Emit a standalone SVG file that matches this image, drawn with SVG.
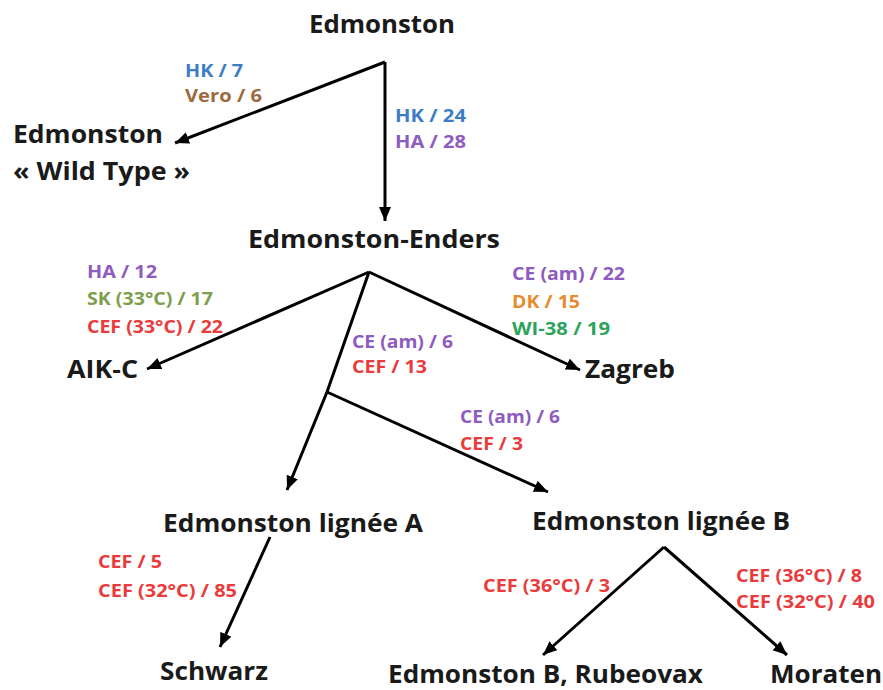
<svg xmlns="http://www.w3.org/2000/svg" width="883" height="690" viewBox="0 0 883 690">
<defs>
<style>
.n{font-family:"Open Sans","Noto Sans",sans-serif;font-weight:bold;font-size:25px;fill:#1a1a1a}
.l{font-family:"Open Sans","Noto Sans",sans-serif;font-weight:bold;font-size:17px}
.c{stroke:#000;stroke-width:3;fill:none;marker-end:url(#a)}
.blue{fill:#3d7dc6}.brown{fill:#9c6a3e}.purple{fill:#8e5bc0}.olive{fill:#7d9e4c}.red{fill:#e93b3b}.orange{fill:#e88a2f}.green{fill:#2ea35c}
</style>
<marker id="a" markerUnits="userSpaceOnUse" markerWidth="16" markerHeight="14" refX="14" refY="6" orient="auto">
<path d="M0,0 L14,6 L0,12 Z" fill="#000"/>
</marker>
</defs>
<rect width="883" height="690" fill="#fff"/>
<g id="connectors">
<path class="c" d="M385,62 L175,143"/>
<path class="c" d="M385,62 L385,221"/>
<path class="c" d="M369,272 L147,369"/>
<path class="c" d="M369,272 L580,370"/>
<path class="c" d="M369,272 L327,392 L287,490"/>
<path class="c" d="M327,392 L548,492"/>
<path class="c" d="M270,537 L220,647"/>
<path class="c" d="M664,547 L543,655"/>
<path class="c" d="M664,547 L787,655"/>
</g>
<g id="labels">
<text class="l blue" x="185" y="77" textLength="58" lengthAdjust="spacingAndGlyphs">HK / 7</text>
<text class="l brown" x="185" y="102" textLength="77" lengthAdjust="spacingAndGlyphs">Vero / 6</text>
<text class="l blue" x="395" y="122" textLength="71" lengthAdjust="spacingAndGlyphs">HK / 24</text>
<text class="l purple" x="395" y="148" textLength="71" lengthAdjust="spacingAndGlyphs">HA / 28</text>
<text class="l purple" x="87" y="278" textLength="70" lengthAdjust="spacingAndGlyphs">HA / 12</text>
<text class="l olive" x="87" y="305" textLength="126" lengthAdjust="spacingAndGlyphs">SK (33°C) / 17</text>
<text class="l red" x="87" y="333" textLength="136" lengthAdjust="spacingAndGlyphs">CEF (33°C) / 22</text>
<text class="l purple" x="352" y="348" textLength="101" lengthAdjust="spacingAndGlyphs">CE (am) / 6</text>
<text class="l red" x="352" y="373" textLength="75" lengthAdjust="spacingAndGlyphs">CEF / 13</text>
<text class="l purple" x="512" y="280" textLength="113" lengthAdjust="spacingAndGlyphs">CE (am) / 22</text>
<text class="l orange" x="512" y="308" textLength="68" lengthAdjust="spacingAndGlyphs">DK / 15</text>
<text class="l green" x="512" y="335" textLength="98" lengthAdjust="spacingAndGlyphs">WI-38 / 19</text>
<text class="l purple" x="460" y="423" textLength="100" lengthAdjust="spacingAndGlyphs">CE (am) / 6</text>
<text class="l red" x="460" y="450" textLength="63" lengthAdjust="spacingAndGlyphs">CEF / 3</text>
<text class="l red" x="98" y="568" textLength="64" lengthAdjust="spacingAndGlyphs">CEF / 5</text>
<text class="l red" x="98" y="597" textLength="139" lengthAdjust="spacingAndGlyphs">CEF (32°C) / 85</text>
<text class="l red" x="483" y="592" textLength="127" lengthAdjust="spacingAndGlyphs">CEF (36°C) / 3</text>
<text class="l red" x="736" y="582" textLength="126" lengthAdjust="spacingAndGlyphs">CEF (36°C) / 8</text>
<text class="l red" x="736" y="608" textLength="139" lengthAdjust="spacingAndGlyphs">CEF (32°C) / 40</text>
</g>
<g id="edmonston"><text class="n" x="309" y="33" textLength="146" lengthAdjust="spacingAndGlyphs">Edmonston</text></g>
<g id="wild-type">
<text class="n" x="13" y="143" textLength="150" lengthAdjust="spacingAndGlyphs">Edmonston</text>
<text class="n" x="13" y="180" textLength="177" lengthAdjust="spacingAndGlyphs">« Wild Type »</text>
</g>
<g id="enders"><text class="n" x="248" y="248" textLength="252" lengthAdjust="spacingAndGlyphs">Edmonston-Enders</text></g>
<g id="aik-c"><text class="n" x="67" y="378" textLength="71" lengthAdjust="spacingAndGlyphs">AIK-C</text></g>
<g id="zagreb"><text class="n" x="585" y="378" textLength="90" lengthAdjust="spacingAndGlyphs">Zagreb</text></g>
<g id="lignee-a"><text class="n" x="163" y="532" textLength="260" lengthAdjust="spacingAndGlyphs">Edmonston lignée A</text></g>
<g id="lignee-b"><text class="n" x="532" y="530" textLength="258" lengthAdjust="spacingAndGlyphs">Edmonston lignée B</text></g>
<g id="schwarz"><text class="n" x="160" y="680" textLength="108" lengthAdjust="spacingAndGlyphs">Schwarz</text></g>
<g id="rubeovax"><text class="n" x="388" y="683" textLength="315" lengthAdjust="spacingAndGlyphs">Edmonston B, Rubeovax</text></g>
<g id="moraten"><text class="n" x="770" y="683" textLength="112" lengthAdjust="spacingAndGlyphs">Moraten</text></g>
</svg>
